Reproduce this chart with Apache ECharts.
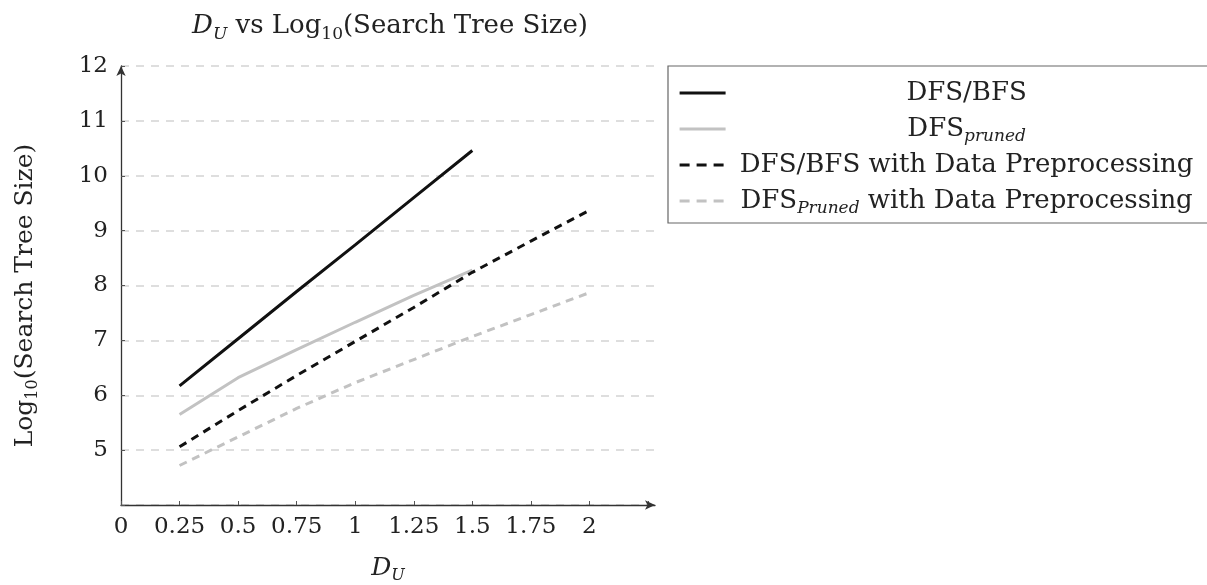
<!DOCTYPE html>
<html>
<head>
<meta charset="utf-8">
<script src="https://cdn.jsdelivr.net/npm/echarts@6/dist/echarts.min.js"></script>
<style>html,body{margin:0;padding:0;background:#fff;}#c{width:1207px;height:585px;}</style>
</head>
<body>
<div id="c"></div>
<script>
const xValues = [0.25, 0.5, 0.75, 1, 1.25, 1.5, 1.75, 2];
const dfsBfs = [6.17, 7.03, 7.89, 8.74, 9.60, 10.46];
const dfsPruned = [5.65, 6.32, 6.83, 7.33, 7.82, 8.28];
const dfsBfsPre = [5.06, 5.72, 6.36, 6.98, 7.60, 8.24, 8.81, 9.37];
const dfsPrunedPre = [4.72, 5.24, 5.76, 6.23, 6.65, 7.07, 7.47, 7.87];
const xTickLabels = ['0', '0.25', '0.5', '0.75', '1', '1.25', '1.5', '1.75', '2'];
const yTickLabels = ['5', '6', '7', '8', '9', '10', '11', '12'];
const seriesNames = ['DFS/BFS', 'DFS_pruned', 'DFS/BFS with Data Preprocessing', 'DFS_Pruned with Data Preprocessing'];

const FONT = 'DejaVu Serif';
const pair = (ys) => ys.map((y, i) => [xValues[i], y]);

const legendText = {
  'DFS/BFS': '{n|DFS/BFS}',
  'DFS_pruned': '{n|DFS}{s|pruned}',
  'DFS/BFS with Data Preprocessing': '{n|DFS/BFS with Data Preprocessing}',
  'DFS_Pruned with Data Preprocessing': '{n|DFS}{s|Pruned}{n| with Data Preprocessing}'
};
const legendDash = [false, false, true, true];

const chart = echarts.init(document.getElementById('c'), null, {renderer: 'canvas'});
chart.setOption({
  backgroundColor: '#fff',
  animation: false,
  title: {
    text: '{it|D}{itsub|U}{n| vs Log}{sub|10}{n|(Search Tree Size)}',
    left: 385, top: 4, textAlign: 'center',
    textStyle: {
      fontFamily: FONT, fontSize: 26, fontWeight: 'normal', color: '#222', lineHeight: 34,
      rich: {
        n: {fontFamily: FONT, fontSize: 26, color: '#222', lineHeight: 34},
        it: {fontFamily: FONT, fontStyle: 'italic', fontSize: 26, color: '#222', lineHeight: 34},
        itsub: {fontFamily: FONT, fontStyle: 'italic', fontSize: 17, color: '#222', verticalAlign: 'bottom', lineHeight: 34},
        sub: {fontFamily: FONT, fontSize: 17, color: '#222', verticalAlign: 'bottom', lineHeight: 34}
      }
    }
  },
  legend: {
    orient: 'vertical',
    left: 668, top: 66,
    padding: [11, 10, 6, 10],
    itemGap: 4,
    itemWidth: 46, itemHeight: 14,
    itemStyle: {opacity: 0},
    borderColor: '#666', borderWidth: 1.2, borderRadius: 0,
    backgroundColor: '#fff',
    data: seriesNames.map((n, i) => ({
      name: n,
      lineStyle: legendDash[i] ? {width: 3.2, type: [10, 7]} : {width: 3.2, type: 'solid'}
    })),
    formatter: (n) => legendText[n],
    textStyle: {
      fontFamily: FONT, fontSize: 26, color: '#222', width: 472, lineHeight: 32,
      rich: {
        n: {fontFamily: FONT, fontSize: 26, color: '#222', align: 'center', lineHeight: 32},
        s: {fontFamily: FONT, fontStyle: 'italic', fontSize: 17, color: '#222', align: 'center', verticalAlign: 'bottom', lineHeight: 32}
      }
    }
  },
  grid: {left: 121, top: 66, width: 534, height: 439, containLabel: false, outerBoundsMode: 'none'},
  xAxis: {
    type: 'value', min: 0, max: 2.28, interval: 0.25,
    name: '{it|D}{itsub|U}', nameLocation: 'middle', nameGap: 47,
    nameTextStyle: {
      fontFamily: FONT, fontSize: 25, color: '#222',
      rich: {
        it: {fontFamily: FONT, fontStyle: 'italic', fontSize: 25, color: '#222', lineHeight: 32},
        itsub: {fontFamily: FONT, fontStyle: 'italic', fontSize: 16, color: '#222', verticalAlign: 'bottom', lineHeight: 32}
      }
    },
    axisLine: {show: true, lineStyle: {color: '#333', width: 1.3}, symbol: ['none', 'arrow'], symbolSize: [7, 10]},
    axisTick: {show: true, inside: true, length: 4, lineStyle: {color: '#555'}},
    axisLabel: {
      fontFamily: FONT, fontSize: 23, color: '#222', margin: 11,
      showMaxLabel: false,
      formatter: (v) => {
        const i = Math.round(v / 0.25);
        return Math.abs(v - i * 0.25) < 1e-6 && i < xTickLabels.length ? xTickLabels[i] : '';
      }
    },
    splitLine: {show: false}
  },
  yAxis: {
    type: 'value', min: 4, max: 12, interval: 1,
    name: '{n|Log}{sub|10}{n|(Search Tree Size)}', nameLocation: 'middle', nameGap: 80, nameRotate: 90,
    nameTextStyle: {
      fontFamily: FONT, fontSize: 25, color: '#222', lineHeight: 32, padding: [0, 20, 0, 0],
      rich: {
        n: {fontFamily: FONT, fontSize: 25, color: '#222', lineHeight: 32},
        sub: {fontFamily: FONT, fontSize: 16, color: '#222', verticalAlign: 'bottom', lineHeight: 32}
      }
    },
    axisLine: {show: true, lineStyle: {color: '#333', width: 1.3}, symbol: ['none', 'arrow'], symbolSize: [7, 10]},
    axisTick: {show: true, inside: true, length: 4, lineStyle: {color: '#555'}},
    axisLabel: {
      fontFamily: FONT, fontSize: 23, color: '#222', margin: 13,
      formatter: (v) => {
        const i = Math.round(v) - 5;
        return i >= 0 && i < yTickLabels.length ? yTickLabels[i] : '';
      }
    },
    splitLine: {show: true, lineStyle: {color: '#d4d4d4', width: 1.5, type: [8, 7]}}
  },
  series: [
    {name: seriesNames[0], type: 'line', data: pair(dfsBfs), showSymbol: false, symbol: 'none',
     lineStyle: {color: '#111', width: 3}, itemStyle: {color: '#111'}},
    {name: seriesNames[1], type: 'line', data: pair(dfsPruned), showSymbol: false, symbol: 'none',
     lineStyle: {color: '#c2c2c2', width: 3}, itemStyle: {color: '#c2c2c2'}},
    {name: seriesNames[2], type: 'line', data: pair(dfsBfsPre), showSymbol: false, symbol: 'none',
     lineStyle: {color: '#111', width: 3, type: [8, 6]}, itemStyle: {color: '#111'}},
    {name: seriesNames[3], type: 'line', data: pair(dfsPrunedPre), showSymbol: false, symbol: 'none',
     lineStyle: {color: '#c2c2c2', width: 3, type: [8, 6]}, itemStyle: {color: '#c2c2c2'}}
  ]
});
</script>
</body>
</html>
